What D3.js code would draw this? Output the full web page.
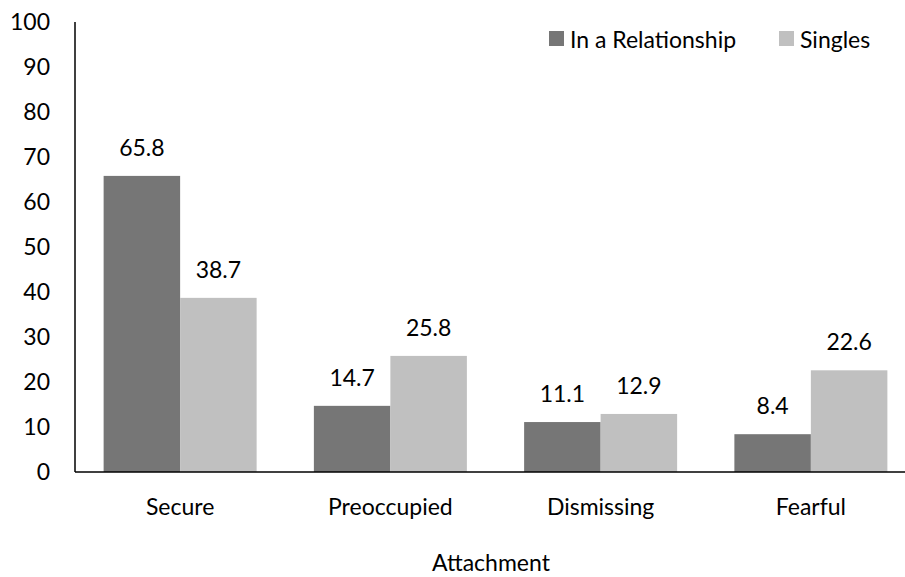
<!DOCTYPE html>
<meta charset="utf-8">
<head>
    <title>Attachment</title>
    <script src="https://d3js.org/d3.v7.min.js"></script>
</head>
<style>
    body { margin: 0; background: #fff; }
    text { font-family: Lato, "Open Sans", sans-serif; fill: #000; font-size: 23px; }
</style>
<body>
<script>
    var categories = ["Secure", "Preoccupied", "Dismissing", "Fearful"];
    var seriesNames = ["In a Relationship", "Singles"];
    var relationship = [65.8, 14.7, 11.1, 8.4];
    var singles = [38.7, 25.8, 12.9, 22.6];
    var yTicks = [0, 10, 20, 30, 40, 50, 60, 70, 80, 90, 100];
    var colors = ["#767676", "#c0c0c0"];

    var width = 905, height = 577;

    var svg = d3.select("body").append("svg")
        .attr("width", width)
        .attr("height", height);

    var x = d3.scaleBand().domain(categories).range([75, 916]).padding(0);
    var x1 = d3.scaleBand().domain(seriesNames).range([0, 153]);
    var y = d3.scaleLinear().domain([0, 100]).range([472, 22]);

    // y axis
    svg.append("line")
        .attr("x1", 75).attr("x2", 75)
        .attr("y1", y(100)).attr("y2", y(0))
        .attr("stroke", "#000").attr("stroke-width", 1.5);

    svg.selectAll(".ytick")
        .data(yTicks)
        .enter().append("text")
        .attr("class", "ytick")
        .attr("x", 50)
        .attr("y", function (d) { return y(d); })
        .attr("dy", "0.36em")
        .attr("text-anchor", "end")
        .text(function (d) { return d; });

    var rows = categories.map(function (c, i) {
        return [
            { cat: c, s: seriesNames[0], v: relationship[i], color: colors[0] },
            { cat: c, s: seriesNames[1], v: singles[i], color: colors[1] }
        ];
    });

    var groups = svg.selectAll(".grp")
        .data(rows)
        .enter().append("g")
        .attr("class", "grp")
        .attr("transform", function (d) {
            return "translate(" + (x(d[0].cat) + x.bandwidth() / 2 - 76.5) + ",0)";
        });

    groups.selectAll("rect")
        .data(function (d) { return d; })
        .enter().append("rect")
        .attr("x", function (d) { return x1(d.s); })
        .attr("width", x1.bandwidth())
        .attr("y", function (d) { return y(d.v); })
        .attr("height", function (d) { return y(0) - y(d.v); })
        .attr("fill", function (d) { return d.color; });

    groups.selectAll("text")
        .data(function (d) { return d; })
        .enter().append("text")
        .attr("x", function (d) { return x1(d.s) + x1.bandwidth() / 2; })
        .attr("y", function (d) { return y(d.v) - 20; })
        .attr("text-anchor", "middle")
        .text(function (d) { return d.v.toFixed(1); });

    // x axis line
    svg.append("line")
        .attr("x1", 75).attr("x2", 916)
        .attr("y1", y(0)).attr("y2", y(0))
        .attr("stroke", "#000").attr("stroke-width", 1.5);

    svg.selectAll(".xlab")
        .data(categories)
        .enter().append("text")
        .attr("class", "xlab")
        .attr("x", function (d) { return x(d) + x.bandwidth() / 2; })
        .attr("y", 515)
        .attr("text-anchor", "middle")
        .text(function (d) { return d; });

    svg.append("text")
        .attr("x", 491)
        .attr("y", 571)
        .attr("text-anchor", "middle")
        .text("Attachment");

    // legend
    var legendX = [549, 779];
    var leg = svg.selectAll(".leg")
        .data(seriesNames)
        .enter().append("g")
        .attr("class", "leg")
        .attr("transform", function (d, i) { return "translate(" + legendX[i] + ",31)"; });

    leg.append("rect")
        .attr("width", 15).attr("height", 15)
        .attr("fill", function (d, i) { return colors[i]; });

    leg.append("text")
        .attr("x", 21)
        .attr("y", 17)
        .text(function (d) { return d; });
</script>
</body>
</html>
